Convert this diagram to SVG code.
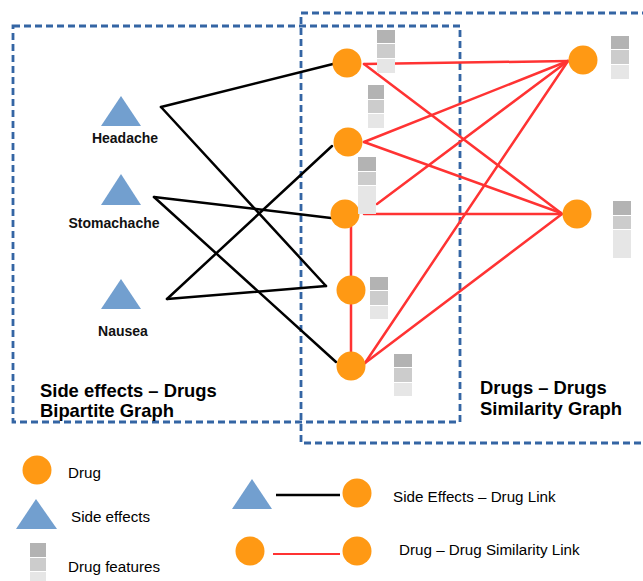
<svg xmlns="http://www.w3.org/2000/svg" width="643" height="581" viewBox="0 0 643 581">
<style>
.box{fill:none;stroke:#3465a4;stroke-width:2.8;stroke-dasharray:7 4}
.drug{fill:#ff9914}
.se{fill:#729fcf}
.f1{fill:#b3b3b3}.f2{fill:#cccccc}.f3{fill:#e6e6e6}
.bl{stroke:#000;stroke-width:2.5;fill:none;stroke-linecap:round}
.rd{stroke:#ff3333;stroke-width:2.5;fill:none;stroke-linecap:round}
.lbl{font-family:"Liberation Sans",Arial,sans-serif;font-weight:bold;font-size:14px;fill:#111}
.title{font-family:"Liberation Sans",Arial,sans-serif;font-weight:bold;font-size:18.4px;fill:#000}
.leg{font-family:"Liberation Sans",Arial,sans-serif;font-size:15.2px;fill:#000}
</style>
<rect width="643" height="581" fill="#fff"/>
<g id="boxes">
<rect class="box" x="13" y="26" width="447" height="396"/>
<path class="box" d="M660,13 H301 V443 H660"/>
</g>
<g id="connectors">
<line class="bl" x1="161" y1="107" x2="333" y2="64"/>
<line class="bl" x1="161" y1="107" x2="326" y2="286"/>
<line class="bl" x1="154" y1="197" x2="331" y2="218"/>
<line class="bl" x1="154" y1="197" x2="336" y2="362"/>
<line class="bl" x1="167" y1="299" x2="332" y2="146"/>
<line class="bl" x1="167" y1="299" x2="326" y2="286"/>
<line class="rd" x1="364" y1="64" x2="568" y2="61"/>
<line class="rd" x1="364" y1="64" x2="561" y2="213"/>
<line class="rd" x1="364" y1="142" x2="568" y2="61"/>
<line class="rd" x1="364" y1="142" x2="561" y2="213"/>
<line class="rd" x1="377" y1="204" x2="568" y2="61"/>
<line class="rd" x1="364" y1="214" x2="562" y2="214"/>
<line class="rd" x1="365" y1="363" x2="568" y2="61"/>
<line class="rd" x1="365" y1="363" x2="562" y2="214"/>
<line class="rd" x1="351" y1="214" x2="351" y2="366"/>
</g>
<g id="headache"><polygon class="se" points="121,96 141,126 101,126"/><text class="lbl" x="125" y="143" text-anchor="middle">Headache</text></g>
<g id="stomachache"><polygon class="se" points="121,174 141,205 101,205"/><text class="lbl" x="114" y="228" text-anchor="middle">Stomachache</text></g>
<g id="nausea"><polygon class="se" points="121,279 141,309 101,309"/><text class="lbl" x="123" y="336" text-anchor="middle">Nausea</text></g>
<g id="drug1"><circle class="drug" cx="347" cy="63" r="14.5"/><rect class="f1" x="377" y="30" width="18" height="13"/><rect class="f2" x="377" y="44" width="18" height="14"/><rect class="f3" x="377" y="59" width="18" height="14"/></g>
<g id="drug2"><circle class="drug" cx="348" cy="142" r="14.5"/><rect class="f1" x="368" y="85" width="16" height="14"/><rect class="f2" x="368" y="100" width="16" height="13"/><rect class="f3" x="368" y="114" width="16" height="14"/></g>
<g id="drug3"><circle class="drug" cx="345" cy="214" r="14.5"/><rect class="f1" x="358" y="157" width="18" height="14"/><rect class="f2" x="358" y="172" width="18" height="13"/><rect class="f3" x="358" y="186" width="18" height="28"/></g>
<g id="drug4"><circle class="drug" cx="351" cy="290" r="14.5"/><rect class="f1" x="370" y="277" width="18" height="13"/><rect class="f2" x="370" y="291" width="18" height="14"/><rect class="f3" x="370" y="306" width="18" height="13"/></g>
<g id="drug5"><circle class="drug" cx="351" cy="366" r="14.5"/><rect class="f1" x="394" y="354" width="18" height="13"/><rect class="f2" x="394" y="368" width="18" height="14"/><rect class="f3" x="394" y="383" width="18" height="13"/></g>
<g id="drugR1"><circle class="drug" cx="583" cy="60" r="14.5"/><rect class="f1" x="611" y="36" width="18" height="13"/><rect class="f2" x="611" y="50" width="18" height="14"/><rect class="f3" x="611" y="65" width="18" height="14"/></g>
<g id="drugR2"><circle class="drug" cx="577" cy="214" r="14.5"/><rect class="f1" x="613" y="201" width="18" height="14"/><rect class="f2" x="613" y="216" width="18" height="13"/><rect class="f3" x="613" y="230" width="18" height="28"/></g>
<g id="titles">
<text class="title" x="40" y="397">Side effects – Drugs</text>
<text class="title" x="40" y="417">Bipartite Graph</text>
<text class="title" x="480" y="394">Drugs – Drugs</text>
<text class="title" x="480" y="415">Similarity Graph</text>
</g>
<g id="legend">
<circle class="drug" cx="37" cy="470" r="14.5"/>
<text class="leg" x="68" y="478">Drug</text>
<polygon class="se" points="36,499 57,529 16,529"/>
<text class="leg" x="71" y="522">Side effects</text>
<rect class="f1" x="30" y="543" width="16" height="14"/><rect class="f2" x="30" y="558" width="16" height="13"/><rect class="f3" x="30" y="572" width="16" height="9"/>
<text class="leg" x="68" y="572">Drug features</text>
<polygon class="se" points="252,479 272,509 232,509"/>
<line x1="276" y1="495" x2="340" y2="495" stroke="#000" stroke-width="2.7"/>
<circle class="drug" cx="357" cy="493" r="14.5"/>
<text class="leg" x="393" y="502">Side Effects – Drug Link</text>
<circle class="drug" cx="250" cy="551" r="14.5"/>
<line x1="273" y1="554" x2="340" y2="554" stroke="#ff3333" stroke-width="2.2"/>
<circle class="drug" cx="357" cy="551" r="14.5"/>
<text class="leg" x="399" y="555">Drug – Drug Similarity Link</text>
</g>
</svg>
